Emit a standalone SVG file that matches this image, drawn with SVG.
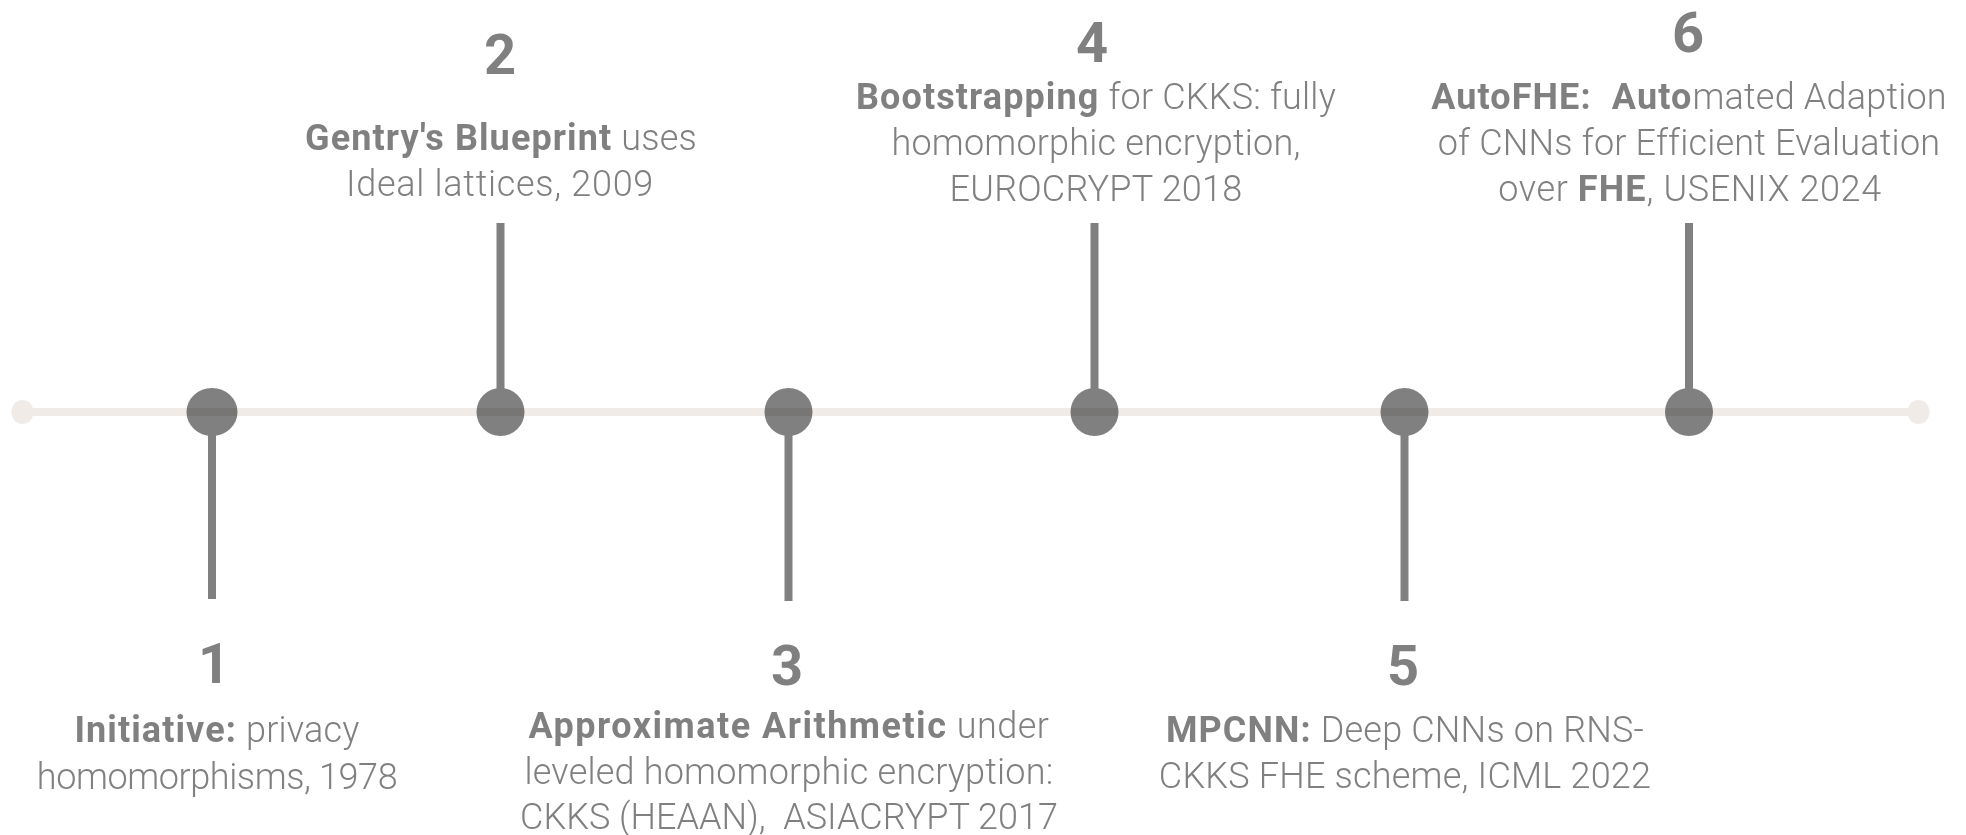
<svg xmlns="http://www.w3.org/2000/svg" width="1966" height="835" viewBox="0 0 1966 835">
  <style>
    .dot { fill: #808080; }
    .end { fill: #f0ebe7; }
    .axis { stroke: #f0ebe7; stroke-width: 8; fill: none; mix-blend-mode: multiply; }
    .stem { stroke: #808080; stroke-width: 8; fill: none; }
    .num { font-family: Roboto, "Liberation Sans", sans-serif; font-weight: 700; font-size: 56px; fill: #808080; text-anchor: middle; }
    .txt { font-family: Roboto, "Liberation Sans", sans-serif; font-weight: 300; font-size: 36px; letter-spacing: 0.2px; fill: #808080; text-anchor: middle; white-space: pre; }
    .b { font-weight: 700; letter-spacing: 1.1px; }
  </style>

  <rect width="1966" height="835" fill="#ffffff"/>

  <!-- timeline events -->
  <g id="event-1">
    <ellipse class="dot" cx="212" cy="412" rx="25.5" ry="24"/>
    <text class="num" x="214" y="683">1</text>
    <text class="txt" x="217" y="742"><tspan class="b">Initiative:</tspan> privacy</text>
    <text class="txt" x="217" y="789" style="letter-spacing:-0.4px">homomorphisms, 1978</text>
  </g>

  <g id="event-2">
    <ellipse class="dot" cx="500.5" cy="412" rx="24" ry="24"/>
    <text class="num" x="500" y="74">2</text>
    <text class="txt" x="501" y="150"><tspan class="b">Gentry's Blueprint</tspan> uses</text>
    <text class="txt" x="500" y="196" style="letter-spacing:0.7px">Ideal lattices, 2009</text>
  </g>

  <g id="event-3">
    <ellipse class="dot" cx="788.5" cy="412" rx="24" ry="24"/>
    <text class="num" x="787" y="685">3</text>
    <text class="txt" x="789" y="738" style="letter-spacing:0.5px"><tspan class="b" style="letter-spacing:1.5px">Approximate Arithmetic</tspan> under</text>
    <text class="txt" x="789" y="784">leveled homomorphic encryption:</text>
    <text class="txt" x="789" y="829" style="letter-spacing:0px">CKKS (HEAAN),  ASIACRYPT 2017</text>
  </g>

  <g id="event-4">
    <ellipse class="dot" cx="1094.5" cy="412" rx="24" ry="24"/>
    <text class="num" x="1092" y="62">4</text>
    <text class="txt" x="1096" y="109"><tspan class="b">Bootstrapping</tspan> for CKKS: fully</text>
    <text class="txt" x="1096" y="155">homomorphic encryption,</text>
    <text class="txt" x="1096" y="201">EUROCRYPT 2018</text>
  </g>

  <g id="event-5">
    <ellipse class="dot" cx="1404.5" cy="412" rx="24" ry="24"/>
    <text class="num" x="1403" y="685">5</text>
    <text class="txt" x="1405" y="742"><tspan class="b">MPCNN:</tspan> Deep CNNs on RNS-</text>
    <text class="txt" x="1405" y="788">CKKS FHE scheme, ICML 2022</text>
  </g>

  <g id="event-6">
    <ellipse class="dot" cx="1689" cy="412" rx="24" ry="24"/>
    <text class="num" x="1688" y="52">6</text>
    <text class="txt" x="1689" y="109"><tspan class="b">AutoFHE:  Auto</tspan>mated Adaption</text>
    <text class="txt" x="1689" y="155">of CNNs for Efficient Evaluation</text>
    <text class="txt" x="1690" y="201" style="letter-spacing:0.6px">over <tspan class="b">FHE</tspan>, USENIX 2024</text>
  </g>

  <!-- axis and stems -->
  <g id="connectors">
    <line class="stem" x1="212" y1="430" x2="212" y2="599"/>
    <line class="stem" x1="500.5" y1="223" x2="500.5" y2="394"/>
    <line class="stem" x1="788.5" y1="430" x2="788.5" y2="601"/>
    <line class="stem" x1="1094.5" y1="223" x2="1094.5" y2="394"/>
    <line class="stem" x1="1404.5" y1="430" x2="1404.5" y2="601"/>
    <line class="stem" x1="1689" y1="223" x2="1689" y2="394"/>
    <line class="axis" x1="22.5" y1="412" x2="1918.5" y2="412"/>
    <ellipse class="end" cx="22.5" cy="412" rx="11" ry="12"/>
    <ellipse class="end" cx="1918.5" cy="412" rx="11" ry="12"/>
  </g>
</svg>
